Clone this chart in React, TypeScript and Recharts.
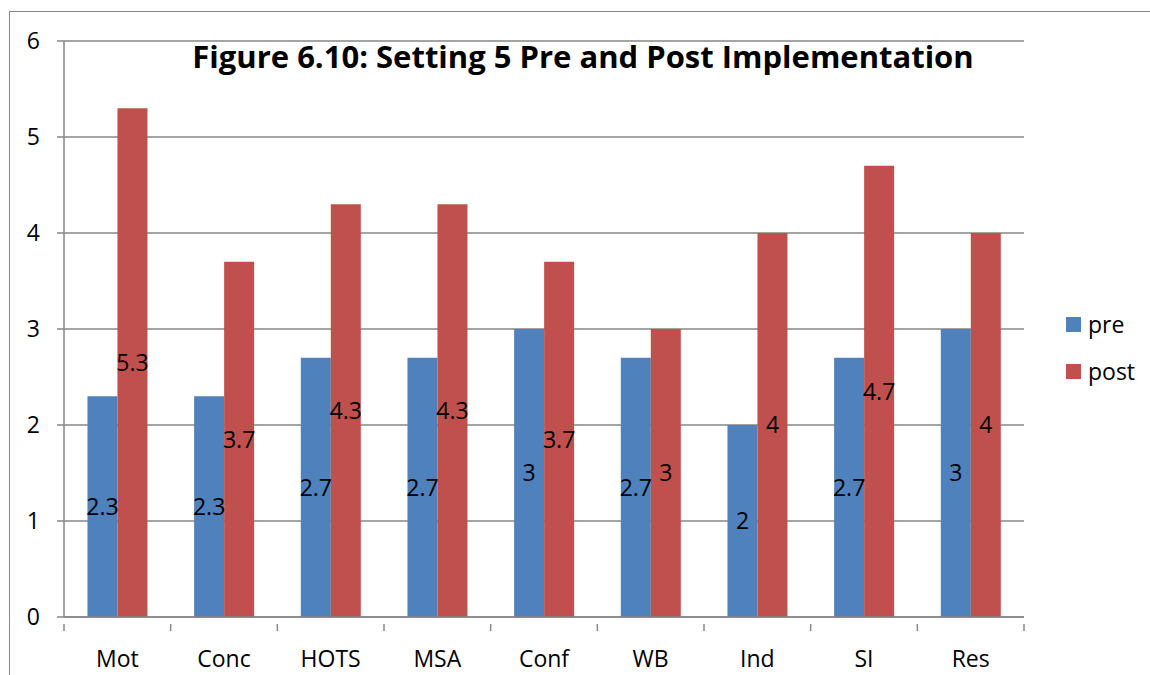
import React from 'react';
import { BarChart, Bar, XAxis, YAxis, CartesianGrid, LabelList } from 'recharts';

const categories = ['Mot', 'Conc', 'HOTS', 'MSA', 'Conf', 'WB', 'Ind', 'SI', 'Res'];
const preValues = [2.3, 2.3, 2.7, 2.7, 3, 2.7, 2, 2.7, 3];
const postValues = [5.3, 3.7, 4.3, 4.3, 3.7, 3, 4, 4.7, 4];
const yTicks = [0, 1, 2, 3, 4, 5, 6];
const seriesNames = ['pre', 'post'];

const data = categories.map((c, i) => ({ name: c, pre: preValues[i], post: postValues[i] }));

const W = 1150;
const H = 675;
const PLOT_LEFT = 64;
const PLOT_RIGHT = 1024;
const FONT = '"Open Sans", Lato, sans-serif';
const FS = 23;
const GRAY = '#868686';
const BLUE = '#4F81BD';
const RED = '#C0504D';

const bw = (PLOT_RIGHT - PLOT_LEFT) / categories.length;

const XTick = (props: any) => {
  const { x, y, payload, index } = props;
  const left = x - bw / 2;
  return (
    <g>
      <line x1={left} y1={y - 1} x2={left} y2={y + 6} stroke={GRAY} strokeWidth={1.5} />
      {index === categories.length - 1 && (
        <line x1={x + bw / 2} y1={y - 1} x2={x + bw / 2} y2={y + 6} stroke={GRAY} strokeWidth={1.5} />
      )}
      <text x={x} y={y + 42} textAnchor="middle" fontSize={FS} fontFamily={FONT} fill="#000">
        {payload.value}
      </text>
    </g>
  );
};

export default function App() {
  return (
    <div style={{ position: 'absolute', left: 0, top: 0, width: W, height: H, background: '#fff', overflow: 'hidden' }}>
      <div
        style={{
          position: 'absolute',
          left: 9,
          top: 11,
          width: W,
          height: H,
          border: `1.5px solid ${GRAY}`,
          boxSizing: 'border-box',
        }}
      />
      <div style={{ position: 'absolute', left: 0, top: 0 }}>
        <BarChart
          width={W}
          height={H}
          data={data}
          margin={{ top: 41, right: W - PLOT_RIGHT, bottom: 18, left: 0 }}
          barCategoryGap="22%"
          barGap={0}
        >
          <CartesianGrid vertical={false} stroke={GRAY} strokeWidth={1.5} />
          <XAxis
            dataKey="name"
            height={40}
            axisLine={{ stroke: GRAY, strokeWidth: 1.5 }}
            tickLine={false}
            tick={<XTick />}
            interval={0}
          />
          <YAxis
            width={64}
            domain={[0, 6]}
            ticks={yTicks}
            interval={0}
            axisLine={{ stroke: GRAY, strokeWidth: 1.5 }}
            tickLine={{ stroke: GRAY, strokeWidth: 1.5 }}
            tickSize={7}
            tickMargin={17}
            tick={{ fontSize: FS, fontFamily: FONT, fill: '#000' }}
          />
          <Bar dataKey="pre" fill={BLUE} isAnimationActive={false}>
            <LabelList dataKey="pre" position="center" fontSize={FS} fontFamily={FONT} fill="#000" />
          </Bar>
          <Bar dataKey="post" fill={RED} isAnimationActive={false}>
            <LabelList dataKey="post" position="center" fontSize={FS} fontFamily={FONT} fill="#000" />
          </Bar>
        </BarChart>
      </div>
      <div
        style={{
          position: 'absolute',
          left: 133,
          top: 36,
          width: 900,
          textAlign: 'center',
          fontFamily: FONT,
          fontWeight: 700,
          fontSize: 31,
          color: '#000',
          lineHeight: '40px',
          whiteSpace: 'nowrap',
        }}
      >
        Figure 6.10: Setting 5 Pre and Post Implementation
      </div>
      <div style={{ position: 'absolute', left: 1066, top: 309, fontFamily: FONT, fontSize: FS, color: '#000' }}>
        {seriesNames.map((s, i) => (
          <div key={s} style={{ display: 'flex', alignItems: 'center', height: 30, lineHeight: '30px', marginBottom: i === 0 ? 17 : 0 }}>
            <span style={{ display: 'inline-block', width: 15, height: 15, background: i === 0 ? BLUE : RED, marginRight: 7 }} />
            <span>{s}</span>
          </div>
        ))}
      </div>
    </div>
  );
}
